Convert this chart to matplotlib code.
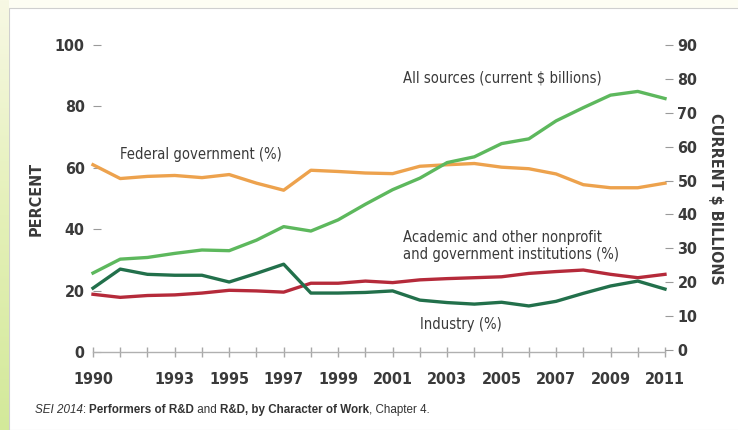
import numpy as np
import matplotlib
matplotlib.use("Agg")
import matplotlib.pyplot as plt
from matplotlib.patches import Rectangle
from matplotlib.offsetbox import TextArea, HPacker, AnnotationBbox

plt.rcParams['font.family'] = ['DejaVu Sans']
plt.rcParams['font.stretch'] = 'condensed'

# data
years = list(range(1990, 2012))
federal = [61, 56.5, 57.2, 57.5, 56.8, 57.8, 55, 52.7, 59.2, 58.8, 58.3, 58.1,
           60.5, 61, 61.4, 60.2, 59.7, 58, 54.5, 53.5, 53.5, 55]
industry = [20.8, 27, 25.3, 25, 25, 22.8, 25.6, 28.6, 19.2, 19.2, 19.4, 19.9,
            16.9, 16.1, 15.6, 16.2, 15, 16.5, 19.1, 21.5, 23.1, 20.5]
academic = [18.8, 17.8, 18.4, 18.6, 19.2, 20.1, 19.9, 19.5, 22.4, 22.4, 23.1, 22.6,
            23.5, 23.9, 24.2, 24.5, 25.6, 26.2, 26.7, 25.3, 24.2, 25.3]
all_sources = [22.7, 26.8, 27.3, 28.5, 29.5, 29.3, 32.4, 36.4, 35.1, 38.4, 43, 47.3,
               50.7, 55.3, 57, 60.9, 62.3, 67.6, 71.5, 75.2, 76.3, 74.2]
xtick_labels = [1990, 1993, 1995, 1997, 1999, 2001, 2003, 2005, 2007, 2009, 2011]
left_ticks = [0, 20, 40, 60, 80, 100]
right_ticks = [0, 10, 20, 30, 40, 50, 60, 70, 80, 90]

c_orange = '#EDA24D'
c_light = '#5DB85D'
c_dark = '#22704B'
c_red = '#B52A3A'
c_text = '#3a3a3a'
c_tick = '#9a9a9a'

fig = plt.figure(figsize=(7.38, 4.30), dpi=100)
fig.patch.set_facecolor('#FDFDF3')

# left gradient strip and white panel
strip = fig.add_axes([0, 0, 9 / 738, 1])
grad = np.linspace(0, 1, 256).reshape(-1, 1)
cmap = matplotlib.colors.LinearSegmentedColormap.from_list('g', ['#F7F8E4', '#E4F0B8', '#D3E99A'])
strip.imshow(grad, aspect='auto', cmap=cmap, extent=[0, 1, 0, 1])
strip.axis('off')
fig.patches.append(Rectangle((9 / 738, 0.0), 1, 1 - 8 / 430, transform=fig.transFigure,
                             facecolor='white', edgecolor='#cfcfcf', linewidth=0.8, zorder=-5))

ax = fig.add_axes([93 / 738, 1 - 352 / 430, 572 / 738, 307 / 430])
ax.set_zorder(2)
ax.patch.set_alpha(0)
ax2 = ax.twinx()
ax2.set_zorder(3)
ax2.patch.set_alpha(0)

lw = 2.4
ax.plot(years, federal, color=c_orange, lw=lw, clip_on=False, zorder=3)
ax.plot(years, academic, color=c_red, lw=lw, clip_on=False, zorder=3)
ax.plot(years, industry, color=c_dark, lw=lw, clip_on=False, zorder=4)
ax2.plot(years, all_sources, color=c_light, lw=lw, clip_on=False, zorder=3)

ax.set_xlim(1990, 2011)
ax.set_ylim(0, 100)
ax2.set_ylim(-0.6, 88.5)

for a in (ax, ax2):
    for s in ('top', 'left', 'right'):
        a.spines[s].set_visible(False)
ax2.spines['bottom'].set_visible(False)
ax.spines['bottom'].set_color('#b0b0b0')
ax.spines['bottom'].set_linewidth(1.0)

ax.set_xticks(years)
ax.set_xticklabels([str(y) if y in xtick_labels else '' for y in years])
ax.tick_params(axis='x', direction='inout', length=7, color='#a8a8a8', width=1.0,
               labelsize=11.5, labelcolor=c_text, pad=11)
ax.set_yticks(left_ticks)
ax.tick_params(axis='y', direction='in', length=6, color=c_tick, width=0.8,
               labelsize=11.5, labelcolor=c_text, pad=6)
ax2.set_yticks(right_ticks)
ax2.tick_params(axis='y', direction='out', length=6, color=c_tick, width=0.8,
                labelsize=11.5, labelcolor=c_text, pad=3)
for lab in ax.get_xticklabels() + ax.get_yticklabels() + ax2.get_yticklabels():
    lab.set_fontweight('bold')

ax.set_ylabel('PERCENT', fontsize=11.5, fontweight='bold', color=c_text, labelpad=8)
ax2.set_ylabel('CURRENT $ BILLIONS', fontsize=11.5, fontweight='bold', color=c_text,
               rotation=-90, labelpad=18)

note = dict(fontsize=10.6, color=c_text)
fig.text(120 / 738, 1 - 155 / 430, 'Federal government (%)', va='center', **note)
fig.text(403 / 738, 1 - 78 / 430, 'All sources (current $ billions)', va='center', **note)
fig.text(403 / 738, 1 - 246 / 430, 'Academic and other nonprofit\nand government institutions (%)',
         va='center', linespacing=1.15, **note)
fig.text(420 / 738, 1 - 325 / 430, 'Industry (%)', va='center', **note)

# caption with mixed styles
cap = 8.4
parts = [('SEI 2014', dict(style='italic')), (': ', {}),
         ('Performers of R&D', dict(weight='bold')), (' and ', {}),
         ('R&D, by Character of Work', dict(weight='bold')), (', Chapter 4.', {})]
boxes = [TextArea(t, textprops=dict(fontsize=cap, color='#333333', family='Liberation Sans',
                                    stretch='normal', **p))
         for t, p in parts]
pack = HPacker(children=boxes, pad=0, sep=0, align='baseline')
ab = AnnotationBbox(pack, (35 / 738, 1 - 410 / 430), xycoords='figure fraction',
                    box_alignment=(0, 0.5), frameon=False)
fig.add_artist(ab)

fig.savefig('out.png', dpi=100, facecolor=fig.get_facecolor())
